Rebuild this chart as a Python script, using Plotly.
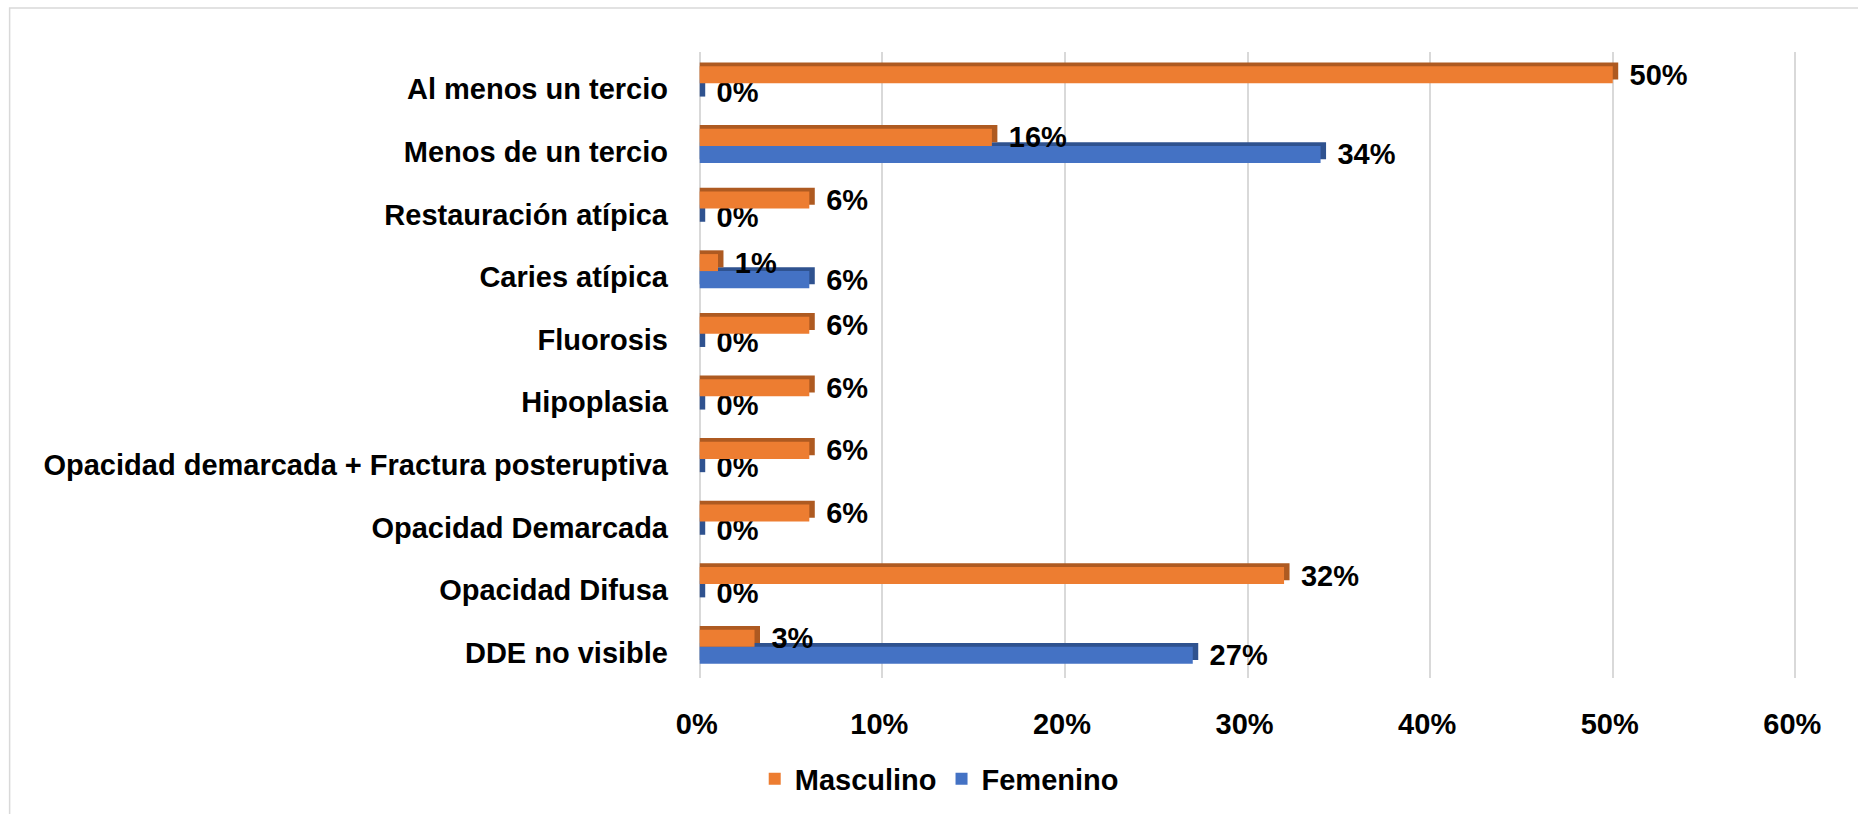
import plotly.graph_objects as go

# Categories listed bottom-to-top (as they appear from the axis origin upward)
categories = [
    "DDE no visible",
    "Opacidad Difusa",
    "Opacidad Demarcada",
    "Opacidad demarcada + Fractura posteruptiva",
    "Hipoplasia",
    "Fluorosis",
    "Caries atípica",
    "Restauración atípica",
    "Menos de un tercio",
    "Al menos un tercio",
]
masculino = [3, 32, 6, 6, 6, 6, 1, 6, 16, 50]
femenino = [27, 0, 0, 0, 0, 0, 6, 0, 34, 0]
x_ticks = [0, 10, 20, 30, 40, 50, 60]
x_tick_labels = ["0%", "10%", "20%", "30%", "40%", "50%", "60%"]

ORANGE = "#ED7D31"
ORANGE_DARK = "#AE5A21"
BLUE = "#4472C4"
BLUE_DARK = "#2F528F"
FONT = "Arial, 'Liberation Sans', sans-serif"

BAR_W = 0.272      # thickness of one bar (category units)
DEPTH_Y = 0.06     # faux-3D top face
DEPTH_X = 0.3      # faux-3D side face (in %)

fig = go.Figure()

def add_series(name, values, color, dark, offset, rank):
    # faux-3D depth face (behind)
    fig.add_trace(go.Bar(
        y=categories, x=[v + DEPTH_X for v in values], orientation="h",
        offset=offset + DEPTH_Y, width=BAR_W,
        marker=dict(color=dark, line=dict(width=0)),
        showlegend=False, hoverinfo="skip",
    ))
    # front face with labels
    fig.add_trace(go.Bar(
        y=categories, x=values, orientation="h", name=name,
        offset=offset, width=BAR_W,
        marker=dict(color=color, line=dict(width=0)),
        text=["\u00a0\u2009" + f"{v}%" for v in values],
        textposition="outside", constraintext="none", cliponaxis=False,
        textfont=dict(family=FONT, size=29, color="black", weight="bold"),
        legendrank=rank,
    ))

add_series("Femenino", femenino, BLUE, BLUE_DARK, -BAR_W, 2)
add_series("Masculino", masculino, ORANGE, ORANGE_DARK, 0.0, 1)

fig.update_layout(
    width=1858, height=814,
    margin=dict(l=697, r=59, t=52, b=136),
    barmode="overlay",
    plot_bgcolor="white", paper_bgcolor="white",
    font=dict(family=FONT, size=29, color="black", weight="bold"),
    showlegend=True,
    legend=dict(
        orientation="h", xref="container", yref="container",
        x=0.5055, xanchor="center", y=0.043, yanchor="middle",
        font=dict(family=FONT, size=29, color="black", weight="bold"),
        traceorder="normal",
    ),
    xaxis=dict(
        range=[-0.15, 60.2], tickvals=x_ticks, ticktext=x_tick_labels,
        showgrid=True, gridcolor="#D9D9D9", gridwidth=2,
        zeroline=False, showline=False, ticks="",
        ticklabelstandoff=26, ticklabelshift=-3,
        tickfont=dict(family=FONT, size=29, color="black", weight="bold"),
    ),
    yaxis=dict(
        type="category", categoryorder="array", categoryarray=categories,
        range=[-0.5, 9.5],
        showgrid=False, zeroline=False, showline=False, ticks="",
        ticklabelstandoff=28, ticklabelshift=6,
        tickfont=dict(family=FONT, size=29, color="black", weight="bold"),
    ),
    shapes=[dict(
        type="rect", xref="paper", yref="paper",
        x0=(10 - 697) / 1101.4, x1=1.3, y0=-0.6, y1=(678 - 8) / 626,
        line=dict(color="#D9D9D9", width=1.5), fillcolor="rgba(0,0,0,0)",
        layer="below",
    )],
)

fig.write_html("out.html", config={"displayModeBar": False},
               post_script="document.body.style.margin='0';")
